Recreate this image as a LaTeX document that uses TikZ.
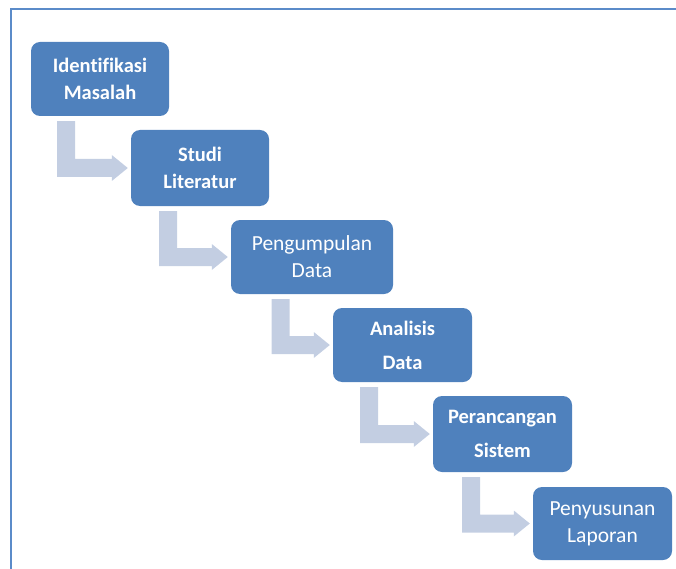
\documentclass[tikz,border=0pt]{standalone}
\usepackage{fontspec}
\setmainfont{Carlito}[Ligatures=NoCommon]
\usetikzlibrary{calc}
\definecolor{boxblue}{HTML}{4F81BD}
\definecolor{arrowgray}{HTML}{C3CEE2}
\definecolor{framecol}{HTML}{5B8BC9}
\tikzset{
  box/.style={rectangle, rounded corners=9pt, fill=boxblue, text=white,
    align=center, inner sep=0pt, minimum width=139pt, minimum height=74pt,
    font=\bfseries\fontsize{20.5}{27}\selectfont},
  widebox/.style={box, font=\bfseries\fontsize{20.5}{34}\selectfont},
  lightbox/.style={box, font=\fontsize{21.5}{27}\selectfont},
  arrowfill/.style={fill=arrowgray},
  frameline/.style={draw=framecol, line width=2pt}
}
\newcommand\bentarrow[3]{%
  \fill[arrowfill] let \p1=(#2.south), \p2=(#3.west) in
    ({#1pt-9pt},{\y1-5pt}) -- ({#1pt+9pt},{\y1-5pt}) -- ({#1pt+9pt},{\y2+9pt})
    -- ({\x2-19pt},{\y2+9pt}) -- ({\x2-19pt},{\y2+13pt}) -- ({\x2-3pt},{\y2})
    -- ({\x2-19pt},{\y2-13pt}) -- ({\x2-19pt},{\y2-9pt}) -- ({#1pt-9pt},{\y2-9pt}) -- cycle;}
\begin{document}
\begin{tikzpicture}[x=1pt,y=-1pt]
\useasboundingbox (0,0) rectangle (676,569);
\coordinate (ftr) at (676,9.5);
\coordinate (ftl) at (10.5,9.5);
\coordinate (fbl) at (10.5,569);
\draw[frameline] (ftr) -- (ftl) -- (fbl);

\node[box, minimum width=138pt] (b1) at (100,79) {Identifikasi\\Masalah};
\node[box, minimum width=138pt, minimum height=76pt] (b2) at (200,168) {Studi\\Literatur};
\node[lightbox, minimum width=162pt] (b3) at (312,257) {Pengumpulan\\Data};
\node[widebox] (b4) at (402.5,345) {Analisis\\Data};
\node[widebox, minimum height=76pt] (b5) at (502.5,434) {Perancangan\\Sistem};
\node[lightbox, minimum height=73pt] (b6) at (602.5,523.5) {Penyusunan\\Laporan};

\bentarrow{66}{b1}{b2}
\bentarrow{168}{b2}{b3}
\bentarrow{280.5}{b3}{b4}
\bentarrow{369}{b4}{b5}
\bentarrow{471}{b5}{b6}
\end{tikzpicture}
\end{document}
